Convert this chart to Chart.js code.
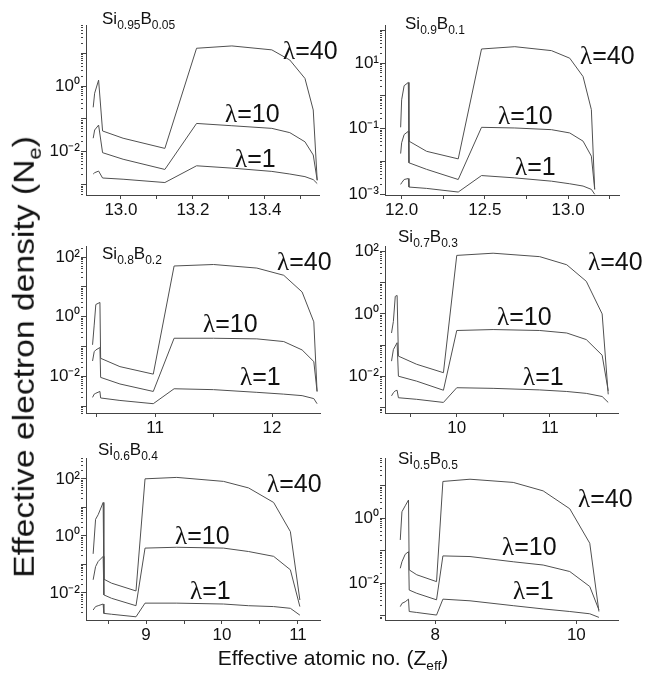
<!DOCTYPE html>
<html>
<head>
<meta charset="utf-8">
<script src="https://cdn.jsdelivr.net/npm/chart.js@4"></script>
<style>
  body { margin: 0; background: #fff; }
  #wrap { position: relative; width: 660px; height: 684px; font-family: "Liberation Sans", Arial, sans-serif; color: #111; }
  #wrap canvas { position: absolute; left: 0; top: 0; }
  .lab { position: absolute; white-space: nowrap; line-height: 1; }
  .lam { font-size: 25px; }
  .lam span { font-family: "Liberation Serif", serif; }
  .comp { font-size: 17px; }
  .comp sub { font-size: 12px; vertical-align: -0.4em; }
  .title sub { font-size: 0.65em; vertical-align: -0.35em; }
</style>
</head>
<body>
<div id="wrap"></div>
<script>
// ---- data ----
const lambdas = ['1', '10', '40'];
const compositions = [['0.95', '0.05'], ['0.9', '0.1'], ['0.8', '0.2'], ['0.7', '0.3'], ['0.6', '0.4'], ['0.5', '0.5']];

// Si0.95B0.05
const zP1 = [12.923, 12.927, 12.938, 12.949, 13.006, 13.122, 13.21, 13.308, 13.419, 13.469, 13.511, 13.534, 13.545];
const ne1P1 = [0.00209, 0.00229, 0.00257, 0.00158, 0.00145, 0.00115, 0.00372, 0.00316, 0.00251, 0.00209, 0.00174, 0.00141, 0.00107];
const ne10P1 = [0.0257, 0.0457, 0.0646, 0.00933, 0.00589, 0.00288, 0.0724, 0.0617, 0.0513, 0.038, 0.02, 0.00794, 0.00135];
const ne40P1 = [0.224, 0.603, 1.51, 0.0427, 0.0257, 0.0126, 14.1, 16.6, 12.6, 6.17, 1.7, 0.186, 0.00135];

// Si0.9B0.1
const zP2 = [11.994, 12.0, 12.015, 12.04, 12.044, 12.15, 12.34, 12.48, 12.68, 12.9, 13.01, 13.09, 13.14, 13.16];
const ne1P2 = [0.002, 0.00224, 0.00282, 0.00302, 0.00166, 0.00151, 0.00117, 0.00372, 0.00316, 0.00251, 0.00209, 0.00178, 0.00141, 0.001];
const ne10P2 = [0.0174, 0.0372, 0.0661, 0.0832, 0.00912, 0.00575, 0.00282, 0.11, 0.105, 0.0933, 0.0741, 0.0417, 0.0145, 0.00141];
const ne40P2 = [0.11, 0.759, 2.04, 2.57, 0.0417, 0.0204, 0.012, 26.9, 31.6, 24.0, 14.1, 3.89, 0.38, 0.00141];

// Si0.8B0.2
const zP3 = [10.466, 10.48, 10.494, 10.529, 10.535, 10.7, 10.985, 11.163, 11.5, 11.87, 12.1, 12.257, 12.357, 12.385];
const ne1P3 = [0.002, 0.00257, 0.00275, 0.00316, 0.00191, 0.00158, 0.00123, 0.00389, 0.00363, 0.00295, 0.00257, 0.00229, 0.00182, 0.00123];
const ne10P3 = [0.0331, 0.0676, 0.0776, 0.0933, 0.00933, 0.00562, 0.00316, 0.191, 0.191, 0.182, 0.148, 0.0776, 0.0316, 0.00316];
const ne40P3 = [0.115, 0.525, 2.57, 3.02, 0.0407, 0.0214, 0.012, 50.1, 56.2, 42.7, 24.5, 6.76, 0.676, 0.00316];

// Si0.7B0.3
const zP4 = [9.3, 9.32, 9.34, 9.36, 9.374, 9.57, 9.857, 10.0, 10.39, 10.89, 11.18, 11.39, 11.56, 11.625];
const ne1P4 = [0.0024, 0.00302, 0.00347, 0.00363, 0.00209, 0.00186, 0.00148, 0.00437, 0.00417, 0.00372, 0.00331, 0.00288, 0.00229, 0.00148];
const ne10P4 = [0.0309, 0.0724, 0.0933, 0.12, 0.0102, 0.00708, 0.00363, 0.295, 0.316, 0.295, 0.245, 0.151, 0.0479, 0.00347];
const ne40P4 = [0.245, 0.575, 3.63, 3.89, 0.0447, 0.0245, 0.0132, 74.1, 87.1, 67.6, 37.2, 11.0, 1.0, 0.00269];

// Si0.6B0.4
const zP5 = [8.304, 8.336, 8.37, 8.436, 8.445, 8.547, 8.868, 8.987, 9.405, 10.02, 10.35, 10.68, 10.9, 11.025];
const ne1P5 = [0.00251, 0.00331, 0.00355, 0.00407, 0.00191, 0.00178, 0.00145, 0.00437, 0.00437, 0.00407, 0.00355, 0.00331, 0.00288, 0.00166];
const ne10P5 = [0.0288, 0.0832, 0.126, 0.191, 0.00851, 0.00646, 0.00355, 0.372, 0.398, 0.372, 0.282, 0.191, 0.0646, 0.00331];
const ne40P5 = [0.234, 3.8, 5.5, 14.8, 0.0302, 0.0219, 0.0117, 100, 112, 81.3, 47.9, 14.8, 1.41, 0.00562];

// Si0.5B0.5
const zP6 = [7.506, 7.53, 7.576, 7.623, 7.633, 7.74, 8.02, 8.11, 8.494, 9.106, 9.53, 9.907, 10.19, 10.32];
const ne1P6 = [0.00191, 0.0024, 0.00269, 0.00324, 0.00135, 0.00126, 0.00105, 0.00324, 0.00288, 0.00204, 0.00162, 0.00135, 0.00115, 0.000891];
const ne10P6 = [0.0288, 0.0457, 0.0776, 0.0933, 0.00617, 0.0049, 0.00309, 0.0692, 0.0661, 0.0457, 0.0363, 0.0229, 0.00794, 0.00151];
const ne40P6 = [0.214, 1.58, 2.4, 3.63, 0.0257, 0.0182, 0.0112, 13.5, 15.8, 12.6, 6.92, 1.95, 0.17, 0.00135];

// tick labels
const xTicks = [[13.0, 13.2, 13.4], [12.0, 12.5, 13.0], [11, 12], [10, 11], [9, 10, 11], [8, 10]];
const xTickText = [['13.0', '13.2', '13.4'], ['12.0', '12.5', '13.0'], ['11', '12'], ['10', '11'], ['9', '10', '11'], ['8', '10']];
const xMinor = [[13.1, 13.3, 13.5], [12.25, 12.75, 13.25], [10.5, 11.5], [9.5, 10.5, 11.5], [8.5, 9.5, 10.5], [9]];
const yTickExp = [[0, -2], [1, -1, -3], [2, 0, -2], [2, 0, -2], [2, 0, -2], [0, -2]];

// axis ranges
const xRange = [[12.903, 13.55], [11.9, 13.306], [10.41, 12.41], [9.23, 11.73], [8.21, 11.29], [7.29, 10.59]];
const yRange = [[4.8e-4, 72], [9.5e-4, 145], [6.0e-4, 234], [6.8e-4, 148], [1.12e-3, 537], [7.4e-4, 71]];

const zs = [zP1, zP2, zP3, zP4, zP5, zP6];
const series = [
  [ne1P1, ne10P1, ne40P1], [ne1P2, ne10P2, ne40P2], [ne1P3, ne10P3, ne40P3],
  [ne1P4, ne10P4, ne40P4], [ne1P5, ne10P5, ne40P5], [ne1P6, ne10P6, ne40P6]
];

// ---- layout (page pixels) ----
const W = 660, H = 684, AXW = 46, AXH = 26;
const frames = [
  { l: 86, r: 319, t: 25, b: 195 }, { l: 385, r: 619, t: 25, b: 195 },
  { l: 86, r: 320, t: 246, b: 413 }, { l: 385, r: 618, t: 246, b: 413 },
  { l: 86, r: 320, t: 458, b: 620 }, { l: 385, r: 618, t: 458, b: 620 }
];
const compPos = [[102, 10], [405, 15], [102, 245], [398, 228], [98, 441], [398, 450]];
// λ=1, λ=10, λ=40 label boxes
const lamPos = [
  [[235, 146], [225, 101], [283, 38]],
  [[515, 154], [498, 103], [580, 43]],
  [[240, 364], [203, 311], [277, 249]],
  [[523, 364], [497, 304], [588, 249]],
  [[190, 578], [175, 523], [267, 471]],
  [[513, 578], [502, 534], [578, 486]]
];

const sup = { '-': '\u207B', '0': '\u2070', '1': '\u00B9', '2': '\u00B2', '3': '\u00B3' };
const tickFont = { family: '"Liberation Sans", Arial, sans-serif', size: 17 };
const axisCol = '#444';
const lineCol = '#505050';

const wrap = document.getElementById('wrap');

function addLabel(html, cls, x, y) {
  const d = document.createElement('div');
  d.className = 'lab ' + cls;
  d.innerHTML = html;
  d.style.left = x + 'px';
  d.style.top = y + 'px';
  wrap.appendChild(d);
  return d;
}

function isDecade(v) {
  const e = Math.log10(v);
  return Math.abs(e - Math.round(e)) < 1e-6;
}

function makePanel(i) {
  const f = frames[i];
  const canvas = document.createElement('canvas');
  canvas.width = W;
  canvas.height = H;
  wrap.appendChild(canvas);

  const datasets = series[i].map(s => ({
    data: zs[i].map((z, k) => ({ x: z, y: s[k] })),
    borderColor: lineCol,
    borderWidth: 1,
    pointRadius: 0,
    tension: 0,
    fill: false
  }));

  new Chart(canvas, {
    type: 'line',
    data: { datasets: datasets },
    options: {
      responsive: false,
      animation: false,
      events: [],
      layout: { padding: { left: f.l - AXW, right: W - f.r, top: f.t, bottom: H - f.b - AXH } },
      plugins: { legend: { display: false }, tooltip: { enabled: false } },
      scales: {
        x: {
          type: 'linear',
          min: xRange[i][0],
          max: xRange[i][1],
          afterBuildTicks: sc => {
            sc.ticks = xTicks[i].concat(xMinor[i]).sort((a, b) => a - b).map(v => ({ value: v }));
          },
          afterFit: sc => { sc.height = AXH; },
          ticks: {
            autoSkip: false,
            maxRotation: 0,
            padding: 1,
            color: '#111',
            font: tickFont,
            callback: v => {
              const k = xTicks[i].indexOf(v);
              return k >= 0 ? xTickText[i][k] : '';
            }
          },
          grid: { drawOnChartArea: false, tickLength: 4, color: axisCol },
          border: { color: axisCol, width: 1 }
        },
        y: {
          type: 'logarithmic',
          min: yRange[i][0],
          max: yRange[i][1],
          // a tick at every decade, short minor ticks at 2..9 of each decade
          afterBuildTicks: sc => {
            const lo = Math.floor(Math.log10(yRange[i][0]));
            const hi = Math.ceil(Math.log10(yRange[i][1]));
            const t = [];
            for (let e = lo; e <= hi; e++) {
              for (let m = 1; m <= 9; m++) {
                const v = m * Math.pow(10, e);
                if (v >= yRange[i][0] && v <= yRange[i][1]) t.push({ value: v });
              }
            }
            sc.ticks = t;
          },
          afterFit: sc => { sc.width = AXW; },
          ticks: {
            autoSkip: false,
            padding: 1,
            color: '#111',
            font: tickFont,
            callback: v => {
              if (!isDecade(v)) return '';
              const e = Math.round(Math.log10(v));
              if (!yTickExp[i].includes(e)) return '';
              return '10' + String(e).split('').map(c => sup[c]).join('');
            }
          },
          grid: {
            drawOnChartArea: false,
            tickLength: 5,
            color: axisCol,
            tickBorderDash: ctx => (ctx.tick && isDecade(ctx.tick.value)) ? [] : [2, 20]
          },
          border: { color: axisCol, width: 1 }
        }
      }
    }
  });

  const c = compositions[i];
  addLabel('Si<sub>' + c[0] + '</sub>B<sub>' + c[1] + '</sub>', 'comp', compPos[i][0], compPos[i][1]);
  lambdas.forEach((l, k) => {
    addLabel('<span>\u03BB</span>=' + l, 'lam', lamPos[i][k][0], lamPos[i][k][1]);
  });
}

for (let i = 0; i < 6; i++) makePanel(i);

// axis titles
const yt = addLabel('Effective electron density (N<sub>e</sub>)', 'title', 0, 0);
yt.style.fontSize = '29px';
yt.style.left = '27px';
yt.style.top = '357px';
yt.style.transform = 'translate(-50%, -50%) rotate(-90deg) scaleX(1.16)';

const xt = addLabel('Effective atomic no. (Z<sub>eff</sub>)', 'title', 0, 0);
xt.style.fontSize = '21px';
xt.style.left = '333px';
xt.style.top = '660px';
xt.style.transform = 'translate(-50%, -50%)';
</script>
</body>
</html>
